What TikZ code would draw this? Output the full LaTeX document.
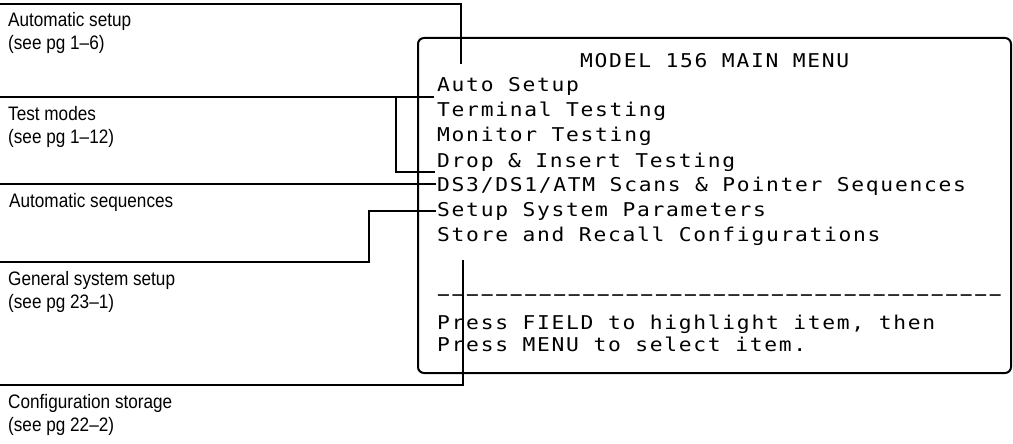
\documentclass[tikz,border=0pt]{standalone}
\usepackage{fontspec}
\setmainfont{Liberation Sans}
\newfontfamily\lblfont[FakeStretch=0.88]{Liberation Sans}
\newfontfamily\lcdfont[FakeStretch=1.12,LetterSpace=9]{DejaVu Sans Mono}
\begin{document}
\begin{tikzpicture}[x=1pt,y=-1pt,
  lbl/.style={anchor=base west, inner sep=0pt, font=\lblfont\fontsize{19.5}{23}\selectfont, align=left},
  lcd/.style={anchor=base west, inner sep=0pt, font=\lcdfont\fontsize{19}{25}\selectfont},
  lead/.style={line width=1.3pt},
  screen/.style={line width=2pt, rounded corners=6pt}]
\useasboundingbox (0,0) rectangle (1013,444);

% screen frame
\draw[screen] (418,38) rectangle (1011,373);

% menu text
\node[lcd] (title) at (580,67) {MODEL 156 MAIN MENU};
\node[lcd] (m1) at (437,92)  {Auto Setup};
\node[lcd] (m2) at (437,117) {Terminal Testing};
\node[lcd] (m3) at (437,142) {Monitor Testing};
\node[lcd] (m4) at (437,167) {Drop \& Insert Testing};
\node[lcd] (m5) at (437,191) {DS3/DS1/ATM Scans \& Pointer Sequences};
\node[lcd] (m6) at (437,216) {Setup System Parameters};
\node[lcd] (m7) at (437,241) {Store and Recall Configurations};
\node[lcd] (dash) at (437,301) {−−−−−−−−−−−−−−−−−−−−−−−−−−−−−−−−−−−−−−−};
\node[lcd] (p1) at (437,329) {Press FIELD to highlight item, then};
\node[lcd] (p2) at (437,351) {Press MENU to select item.};

% left labels (base anchor = baseline of last line)
\node[lbl] (l1) at (8,50)  {Automatic setup\\(see pg 1–6)};
\node[lbl] (l2) at (8,143) {Test modes\\(see pg 1–12)};
\node[lbl] (l3) at (9,207) {Automatic sequences};
\node[lbl] (l4) at (8,308) {General system setup\\(see pg 23–1)};
\node[lbl] (l5) at (8,431) {Configuration storage\\(see pg 22–2)};

% leader coordinates
\coordinate (a0) at (0,4);   \coordinate (a1) at (461,4);   \coordinate (a2) at (461,64);
\coordinate (b0) at (0,97);  \coordinate (b1) at (434,97);
\coordinate (b2) at (396,97); \coordinate (b3) at (435,172);
\coordinate (c0) at (0,184); \coordinate (c1) at (436,184);
\coordinate (d0) at (0,262); \coordinate (d1) at (369,262); \coordinate (d2) at (436,211);
\coordinate (e0) at (0,385); \coordinate (e1) at (463,385); \coordinate (e2) at (463,260);

% leaders
\draw[lead] (a0) -- (a1) -- (a2);
\draw[lead] (b0) -- (b1);
\draw[lead] (b2) |- (b3);
\draw[lead] (c0) -- (c1);
\draw[lead] (d0) -- (d1) |- (d2);
\draw[lead] (e0) -- (e1) -- (e2);
\end{tikzpicture}
\end{document}
